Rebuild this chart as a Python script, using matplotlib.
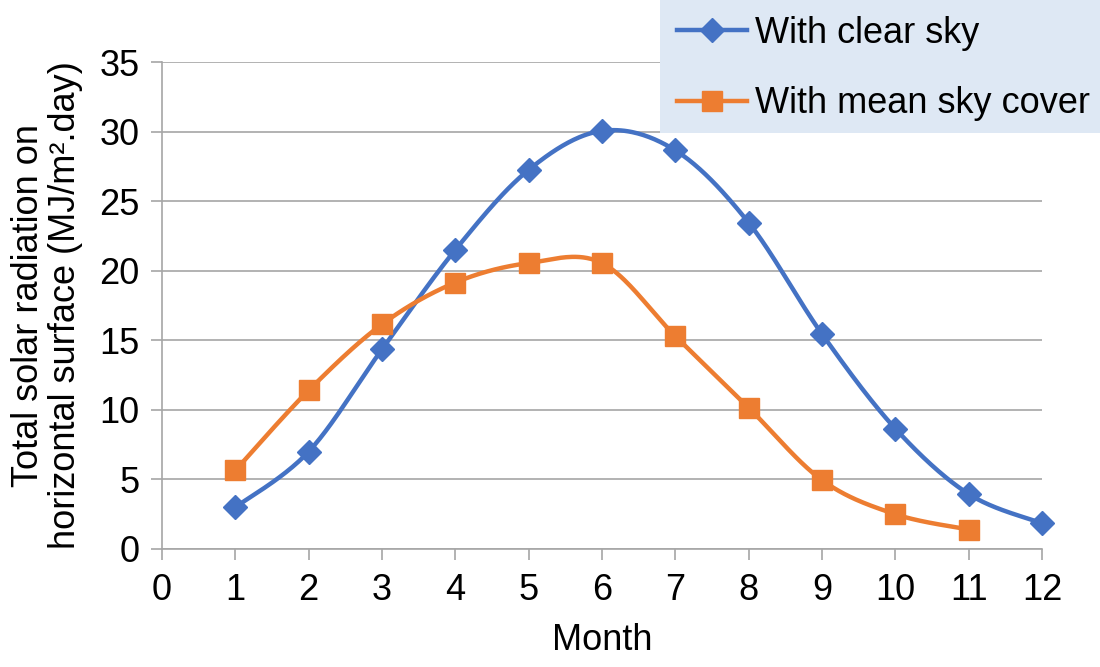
import matplotlib.pyplot as plt
from matplotlib.patches import Rectangle
import numpy as np

plt.rcParams['font.family'] = ['Liberation Sans', 'DejaVu Sans']

#### Data ####
months_clear = [1, 2, 3, 4, 5, 6, 7, 8, 9, 10, 11, 12]
clear_sky = [3.0, 7.0, 14.35, 21.5, 27.25, 30.05, 28.65, 23.45, 15.45, 8.65, 3.95, 1.85]

months_mean = [1, 2, 3, 4, 5, 6, 7, 8, 9, 10, 11]
mean_sky = [5.65, 11.4, 16.15, 19.15, 20.55, 20.55, 15.3, 10.15, 4.95, 2.5, 1.4]

x_ticks = list(range(0, 13))
y_ticks = [0, 5, 10, 15, 20, 25, 30, 35]

blue = "#4472C4"
orange = "#ED7D31"
grid_grey = "#A6A6A6"
fs = 26


# Excel style smoothed line (cubic bezier between points, catmull-rom like)
def smooth(xs, ys, n=40):
    p = np.column_stack([xs, ys]).astype(float)
    p = np.vstack([p[0], p, p[-1]])
    out = []
    t = np.linspace(0, 1, n)[:, None]
    for i in range(1, len(p) - 2):
        p0, p1, p2, p3 = p[i - 1], p[i], p[i + 1], p[i + 2]
        c1 = p1 + (p2 - p0) / 6.0
        c2 = p2 - (p3 - p1) / 6.0
        seg = ((1 - t) ** 3) * p1 + 3 * ((1 - t) ** 2) * t * c1 + 3 * (1 - t) * t ** 2 * c2 + t ** 3 * p2
        out.append(seg if i == 1 else seg[1:])
    out = np.vstack(out)
    return out[:, 0], out[:, 1]


fig = plt.figure(figsize=(11, 6.67), dpi=100)
ax = fig.add_axes([162 / 1100, 1 - 549 / 667, 880 / 1100, 487 / 667])

sx, sy = smooth(months_clear, clear_sky)
ax.plot(sx, sy, color=blue, linewidth=3.2, solid_capstyle="round", zorder=3, clip_on=False)
ax.plot(months_clear, clear_sky, linestyle="none", marker="D", markersize=12,
        color=blue, zorder=4, clip_on=False)

sx, sy = smooth(months_mean, mean_sky)
ax.plot(sx, sy, color=orange, linewidth=3.2, solid_capstyle="round", zorder=3, clip_on=False)
ax.plot(months_mean, mean_sky, linestyle="none", marker="s", markersize=14,
        color=orange, zorder=4, clip_on=False)

ax.set_xlim(0, 12)
ax.set_ylim(0, 35)
ax.set_xticks(x_ticks)
ax.set_yticks(y_ticks)
ax.tick_params(axis="both", labelsize=fs, color=grid_grey, length=8, width=1.2, direction="out")
ax.tick_params(axis="x", pad=9)
ax.tick_params(axis="y", pad=8)
ax.grid(axis="y", color=grid_grey, linewidth=1.2)
ax.set_axisbelow(True)
for s in ["top", "right"]:
    ax.spines[s].set_visible(False)
for s in ["left", "bottom"]:
    ax.spines[s].set_color(grid_grey)
    ax.spines[s].set_linewidth(1.2)

ax.set_xlabel("Month", fontsize=fs, labelpad=11)
ax.set_ylabel("Total solar radiation on\nhorizontal surface (MJ/m\u00b2.day)", fontsize=fs,
              labelpad=12, linespacing=1.08)

# legend box in the top right corner
fig.patches.append(Rectangle((660 / 1100, 1 - 133 / 667), 440 / 1100, 133 / 667,
                             transform=fig.transFigure, facecolor="#DEE8F4",
                             edgecolor="none", zorder=0))
h1, = ax.plot([], [], color=blue, linewidth=3.2, marker="D", markersize=12)
h2, = ax.plot([], [], color=orange, linewidth=3.2, marker="s", markersize=14)
fig.legend([h1, h2], ["With clear sky", "With mean sky cover"], loc="upper left",
           bbox_to_anchor=(648 / 1100, 1 + 13 / 667), frameon=False, fontsize=fs,
           handlelength=1.95, handletextpad=0.2, labelspacing=0.98, borderpad=0.3)

fig.savefig("out.png", dpi=100)
